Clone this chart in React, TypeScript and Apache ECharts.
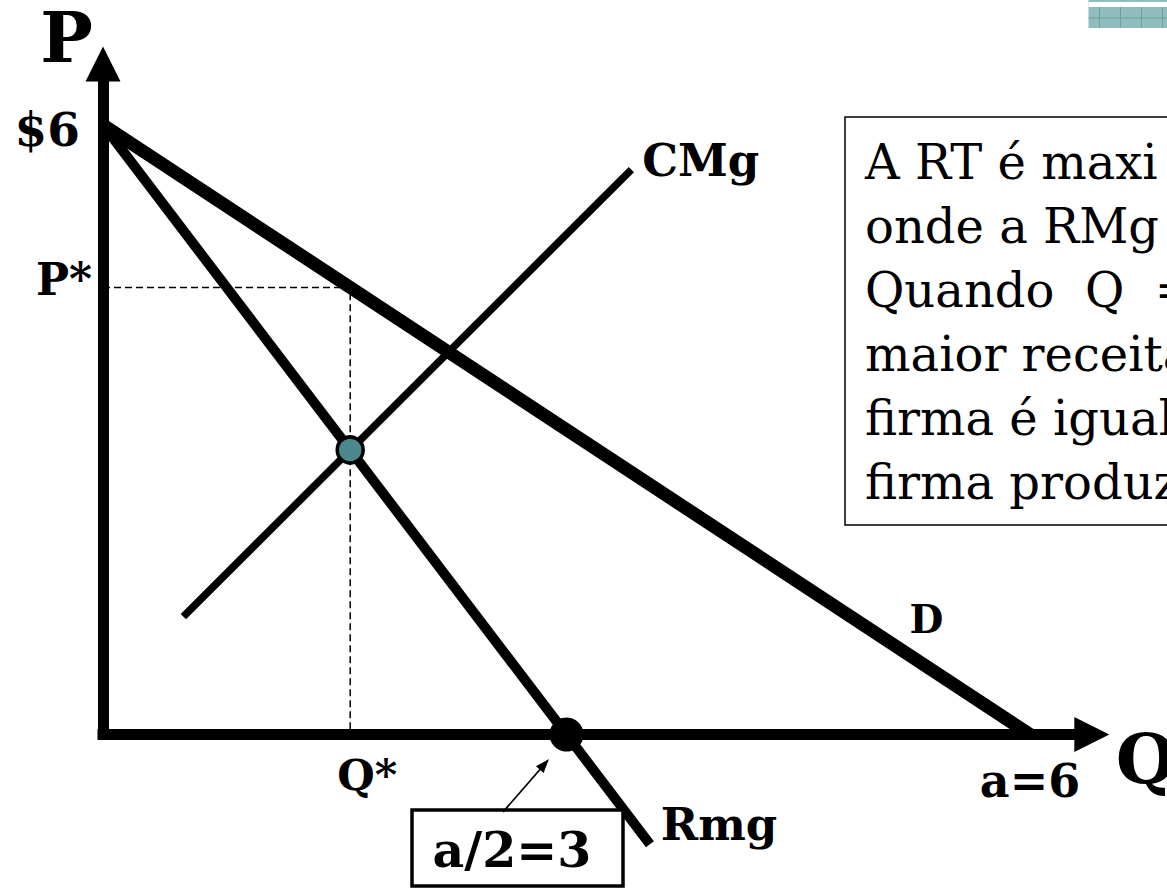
import React, { useEffect, useRef } from 'react';
import * as echarts from 'echarts';

// ---- data (economic units: Q = quantity, P = price) ----
const quantityMax = 6.4;
const priceMax = 6.6;
const demandCurve = [[0, 6], [6, 0]];
const marginalRevenueCurve = [[0, 6], [3.54, -1.08]];
const marginalCostCurve = [[0.52, 1.16], [3.42, 5.56]];
const optimumPoint = [[1.6, 2.8]];
const revenueMaxPoint = [[3, 0]];
const guideLine = [[0, 4.4], [1.6, 4.4], [1.6, 0]];
const priceTickValues = [6, 4.4];
const priceTickLabels = ['$6', 'P*'];
const quantityTickValues = [1.6, 6];
const quantityTickLabels = ['Q*', 'a=6'];
const curveNames = ['CMg', 'D', 'Rmg'];
const curveNameAnchors = [[3.49, 5.65], [5.33, 1.14], [3.61, -0.89]];
const noteLines = ['A RT é maxi', 'onde a RMg', 'Quando  Q  =', 'maior receita', 'firma é igual', 'firma produz'];
const boxLabel = 'a/2=3';

const SERIF = '"DejaVu Serif", serif';

export default function App() {
  const ref = useRef<HTMLDivElement>(null);

  useEffect(() => {
    const chart = echarts.init(ref.current as HTMLDivElement, null, { renderer: 'svg' });

    const axisLineStyle = { color: '#000', width: 11, cap: 'square' };

    chart.setOption({
      animation: false,
      backgroundColor: '#fff',
      grid: {
        left: 103,
        right: 75.2,
        top: 63.9,
        bottom: 153.5,
        containLabel: false,
        outerBoundsMode: 'none',
      },
      xAxis: {
        type: 'value',
        min: 0,
        max: quantityMax,
        name: 'Q',
        nameLocation: 'end',
        nameGap: 24,
        nameTextStyle: {
          fontFamily: SERIF,
          fontWeight: 'bold',
          fontSize: 70,
          lineHeight: 50,
          color: '#000',
          align: 'left',
          verticalAlign: 'top',
        },
        axisLine: {
          show: true,
          onZero: false,
          symbol: ['none', 'triangle'],
          symbolSize: [35, 35],
          lineStyle: axisLineStyle,
        },
        axisTick: { show: false },
        splitLine: { show: false },
        axisLabel: {
          customValues: quantityTickValues,
          margin: 19,
          color: '#000',
          fontFamily: SERIF,
          fontWeight: 'bold',
          fontSize: 44,
          formatter: (v: number) => {
            const i = quantityTickValues.indexOf(v);
            if (i < 0) return '';
            return i === 0 ? `{q|${quantityTickLabels[i]}}` : `{a|${quantityTickLabels[i]}}`;
          },
          rich: {
            q: { fontFamily: SERIF, fontWeight: 'bold', fontSize: 43, color: '#000', padding: [0, 0, 0, 34] },
            a: { fontFamily: SERIF, fontWeight: 'bold', fontSize: 46, color: '#000', padding: [4, 0, 0, 0] },
          },
        },
      },
      yAxis: {
        type: 'value',
        min: 0,
        max: priceMax,
        name: 'P',
        nameLocation: 'end',
        nameGap: 26,
        nameTextStyle: {
          fontFamily: SERIF,
          fontWeight: 'bold',
          fontSize: 70,
          lineHeight: 56,
          color: '#000',
          align: 'right',
          verticalAlign: 'middle',
          padding: [0, 10, 0, 0],
        },
        axisLine: {
          show: true,
          onZero: false,
          symbol: ['none', 'triangle'],
          symbolSize: [35, 35],
          lineStyle: axisLineStyle,
        },
        axisTick: { show: false },
        splitLine: { show: false },
        axisLabel: {
          customValues: priceTickValues,
          margin: 11,
          color: '#000',
          fontFamily: SERIF,
          fontWeight: 'bold',
          fontSize: 44,
          formatter: (v: number) => {
            const i = priceTickValues.indexOf(v);
            if (i < 0) return '';
            return i === 0 ? `{d|${priceTickLabels[i]}}` : `{p|${priceTickLabels[i]}}`;
          },
          rich: {
            d: { fontFamily: SERIF, fontWeight: 'bold', fontSize: 47, color: '#000', padding: [10, 12, 0, 0] },
            p: { fontFamily: SERIF, fontWeight: 'bold', fontSize: 44, color: '#000', padding: [0, 0, 16, 0] },
          },
        },
      },
      series: [
        {
          name: 'guide',
          type: 'line',
          data: guideLine,
          symbol: 'none',
          clip: false,
          z: 1,
          lineStyle: { color: '#000', width: 1.5, type: [7, 4] },
        },
        {
          name: 'D',
          type: 'line',
          data: demandCurve,
          symbol: 'none',
          clip: false,
          z: 3,
          lineStyle: { color: '#000', width: 13 },
        },
        {
          name: 'Rmg',
          type: 'line',
          data: marginalRevenueCurve,
          symbol: 'none',
          clip: false,
          z: 3,
          lineStyle: { color: '#000', width: 10 },
        },
        {
          name: 'CMg',
          type: 'line',
          data: marginalCostCurve,
          symbol: 'none',
          clip: false,
          z: 3,
          lineStyle: { color: '#000', width: 7.5 },
        },
        {
          name: 'optimum',
          type: 'scatter',
          data: optimumPoint,
          symbol: 'circle',
          symbolSize: 26,
          clip: false,
          z: 5,
          itemStyle: { color: '#4b878d', borderColor: '#000', borderWidth: 3.5, opacity: 1 },
        },
        {
          name: 'revenueMax',
          type: 'scatter',
          data: revenueMaxPoint,
          symbol: 'circle',
          symbolSize: 34,
          clip: false,
          z: 5,
          itemStyle: { color: '#000', opacity: 1 },
        },
        {
          name: 'curveLabels',
          type: 'scatter',
          symbolSize: 0,
          clip: false,
          z: 6,
          silent: true,
          itemStyle: { opacity: 1 },
          data: curveNames.map((n, i) => ({
            value: curveNameAnchors[i],
            name: n,
            label: {
              show: true,
              formatter: n,
              position: i === 1 ? 'inside' : 'right',
              distance: 0,
              color: '#000',
              opacity: 1,
              fontFamily: SERIF,
              fontWeight: 'bold',
              fontSize: i === 1 ? 39 : 45,
            },
          })),
        },
      ],
      graphic: [
        {
          type: 'group',
          left: 1086,
          top: 0,
          children: [
            { type: 'rect', shape: { x: 0, y: 0, width: 81, height: 28 }, style: { fill: '#8fbdbd' } },
            { type: 'rect', shape: { x: 0, y: 2, width: 81, height: 5 }, style: { fill: '#ffffff' } },
            { type: 'line', shape: { x1: 0, y1: 18, x2: 81, y2: 18 }, style: { stroke: '#6b9f9f', lineWidth: 1 } },
            { type: 'line', shape: { x1: 11, y1: 7, x2: 11, y2: 28 }, style: { stroke: '#6b9f9f', lineWidth: 1 } },
            { type: 'line', shape: { x1: 32, y1: 7, x2: 32, y2: 28 }, style: { stroke: '#6b9f9f', lineWidth: 1 } },
            { type: 'line', shape: { x1: 53, y1: 7, x2: 53, y2: 28 }, style: { stroke: '#6b9f9f', lineWidth: 1 } },
            { type: 'line', shape: { x1: 74, y1: 7, x2: 74, y2: 28 }, style: { stroke: '#6b9f9f', lineWidth: 1 } },
          ],
        },
        {
          type: 'rect',
          shape: { x: 845, y: 117, width: 360, height: 408 },
          style: { fill: '#fff', stroke: '#000', lineWidth: 1.5 },
          z: 10,
        },
        {
          type: 'text',
          x: 865,
          y: 130,
          z: 11,
          style: {
            text: noteLines.join('\n'),
            fill: '#000',
            font: `48px ${SERIF}`,
            lineHeight: 64,
            verticalAlign: 'top',
            align: 'left',
          },
        },
        {
          type: 'rect',
          shape: { x: 412, y: 810, width: 211, height: 76 },
          style: { fill: '#fff', stroke: '#000', lineWidth: 3.5 },
          z: 10,
        },
        {
          type: 'text',
          x: 512,
          y: 850,
          z: 11,
          style: {
            text: boxLabel,
            fill: '#000',
            font: `bold 49px ${SERIF}`,
            align: 'center',
            verticalAlign: 'middle',
          },
        },
        {
          type: 'line',
          shape: { x1: 503, y1: 812, x2: 543, y2: 766 },
          style: { stroke: '#000', lineWidth: 1.8 },
          z: 10,
        },
        {
          type: 'polygon',
          shape: { points: [[549, 759], [543.6, 772.9], [536.0, 766.3]] },
          style: { fill: '#000' },
          z: 10,
        },
      ],
    });

    return () => chart.dispose();
  }, []);

  return (
    <div
      ref={ref}
      style={{ position: 'fixed', left: 0, top: 0, width: 1167, height: 888, background: '#fff' }}
    />
  );
}
